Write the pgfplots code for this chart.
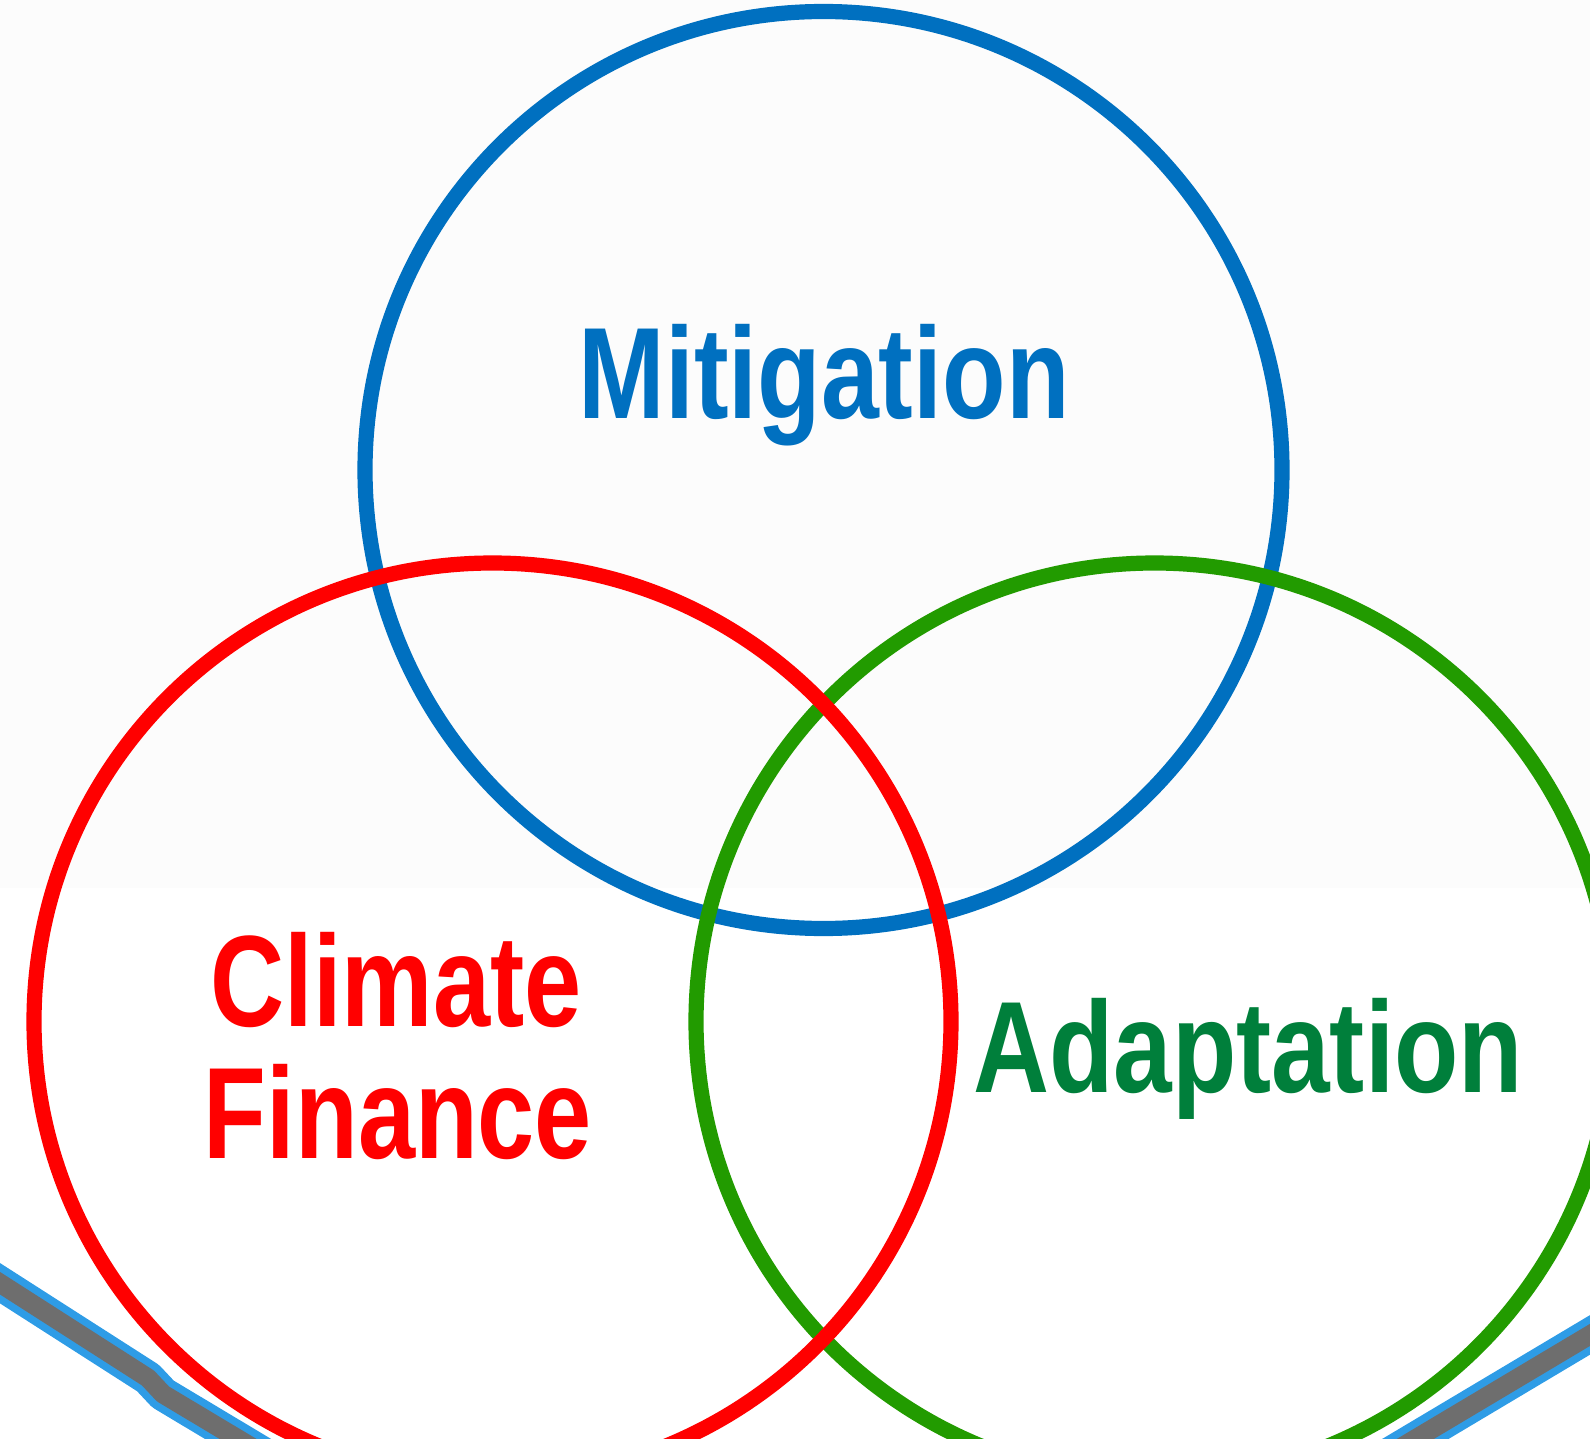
\documentclass[border=0pt]{standalone}
\usepackage{fontspec}
\setmainfont{Liberation Sans}
\newfontfamily\labfont[FakeStretch=0.79]{Liberation Sans}
\newfontfamily\labfontm[FakeStretch=0.80]{Liberation Sans}
\newfontfamily\labfonta[FakeStretch=0.81]{Liberation Sans}
\usepackage{pgfplots}
\pgfplotsset{compat=1.18}
\definecolor{mblue}{HTML}{0070C0}
\definecolor{cred}{HTML}{FF0000}
\definecolor{agreen}{HTML}{229B00}
\definecolor{atext}{HTML}{007F3B}
\definecolor{arrgray}{HTML}{6E6E6E}
\definecolor{arrblue}{HTML}{2E9CE6}
\definecolor{bg}{HTML}{FCFCFC}
\begin{document}
\begin{tikzpicture}
\begin{axis}[x=0.5pt,y=0.5pt,y dir=reverse,xmin=0,xmax=1590,ymin=0,ymax=1439,hide axis,clip=true]
\addplot[draw=none,fill=bg] coordinates {(0,0) (1590,0) (1590,888) (0,888)} -- cycle;
% decorative arrows (bottom left and bottom right)
\addplot[arrblue, line width=17pt, line join=round] coordinates {(-30,1264) (148,1378) (163,1394) (320,1488)};
\addplot[arrgray, line width=9.5pt, line join=round] coordinates {(-30,1264) (148,1378) (163,1394) (320,1488)};
\addplot[arrblue, line width=17pt, line join=round] coordinates {(1620,1317) (1380,1460)};
\addplot[arrgray, line width=9.5pt, line join=round] coordinates {(1620,1317) (1380,1460)};
% circles
\draw[mblue, line width=7.6pt] (axis cs:823.5,470) circle[radius=458.5];
\draw[agreen, line width=7.6pt] (axis cs:1154.5,1021.5) circle[radius=458.5];
\draw[cred, line width=7.6pt] (axis cs:492.5,1021.5) circle[radius=458.5];
% labels
\node[anchor=base, text=mblue, inner sep=0pt, font=\labfontm\bfseries\fontsize{65pt}{78pt}\selectfont] at (axis cs:824,418) {Mitigation};
\node[anchor=base, text=cred, inner sep=0pt, font=\labfont\bfseries\fontsize{65pt}{78pt}\selectfont] at (axis cs:396,1026) {Climate};
\node[anchor=base, text=cred, inner sep=0pt, font=\labfont\bfseries\fontsize{65pt}{78pt}\selectfont] at (axis cs:398,1158) {Finance};
\node[anchor=base, text=atext, inner sep=0pt, font=\labfonta\bfseries\fontsize{65pt}{78pt}\selectfont] at (axis cs:1248,1092) {Adaptation};
\end{axis}
\pgfresetboundingbox
\useasboundingbox (current axis.south west) rectangle (current axis.north east);
\end{tikzpicture}
\end{document}
